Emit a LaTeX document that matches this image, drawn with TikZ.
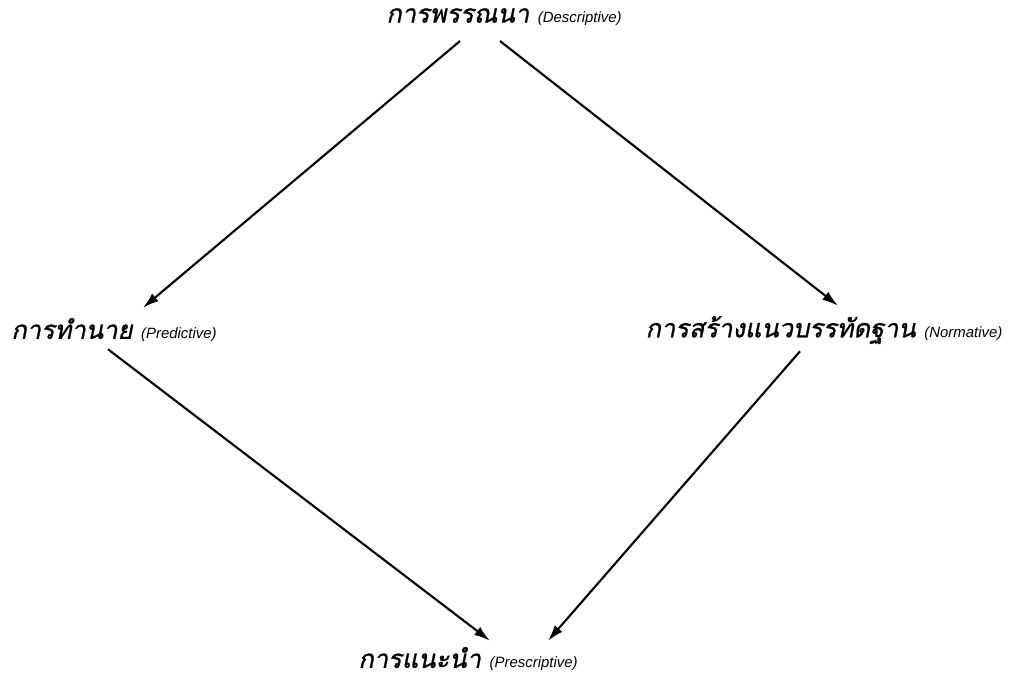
\documentclass[tikz,border=0pt]{standalone}
\usepackage{fontspec}
\newfontfamily\thaifont[Script=Thai,FakeSlant=0.2,FakeBold=1]{Loma}
\newfontfamily\engfont{Liberation Sans}
\usetikzlibrary{arrows.meta,calc}

\begin{document}
\begin{tikzpicture}[
  x=0.02cm, y=-0.02cm,
  term/.style={inner sep=0pt, font=\thaifont\fontsize{14.5}{16}\selectfont},
  arrow/.style={-{Latex[length=3.2mm,width=2mm]}, line width=1.2pt}
]
\newcommand{\engl}[1]{{\engfont\itshape\fontsize{8.5}{10}\selectfont(#1)}}
\useasboundingbox (0,0) rectangle (1012,679);
\node[term] (desc) at (504,17) {การพรรณนา \engl{Descriptive}};
\node[term] (pred) at (114,330) {การทำนาย \engl{Predictive}};
\node[term] (norm) at (824,330) {การสร้างแนวบรรทัดฐาน \engl{Normative}};
\node[term] (presc) at (468,659) {การแนะนำ \engl{Prescriptive}};
\foreach \a/\ax/\ay/\b/\bx/\by in {desc.south/-44/15/pred.north/29/-10,
    desc.south/-4/15/norm.north/14/-10,
    pred.south/-6/7/presc.north/22/-6,
    norm.south/-24/7/presc.north/80/-6}
  \draw[arrow] ($(\a)+(\ax,\ay)$) -- ($(\b)+(\bx,\by)$);
\end{tikzpicture}
\end{document}
